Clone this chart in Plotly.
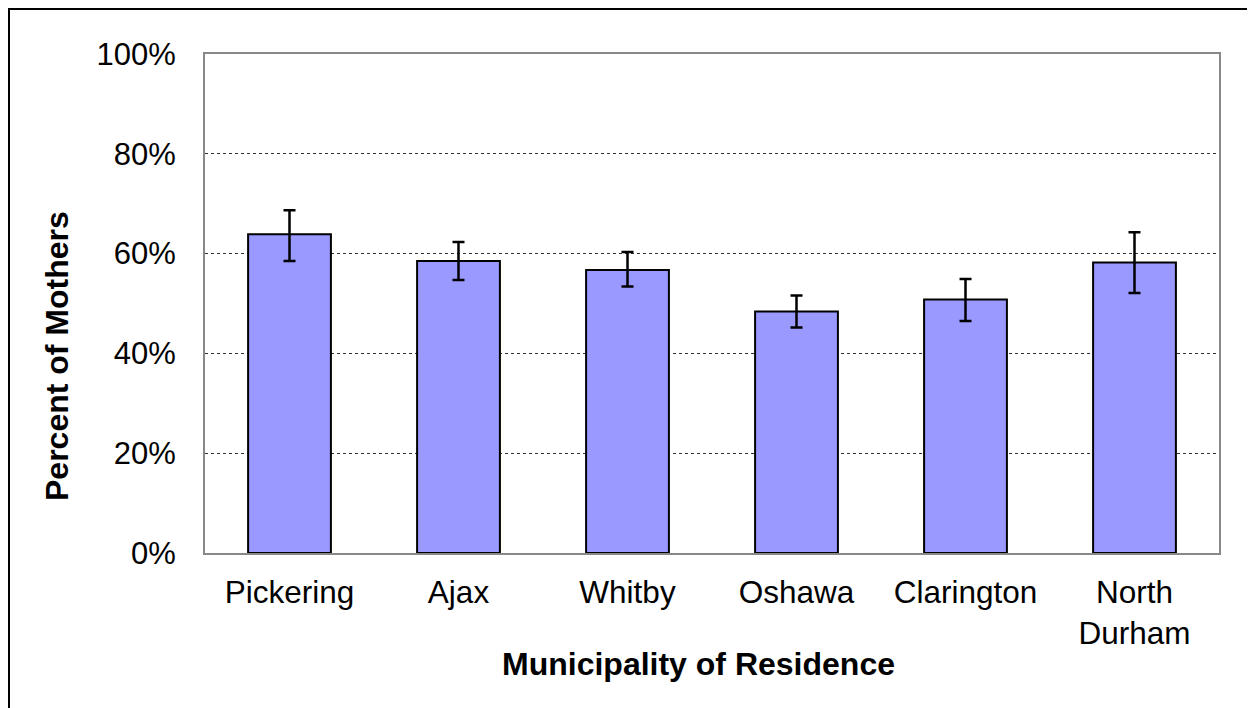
import plotly.graph_objects as go

categories = ["Pickering", "Ajax", "Whitby", "Oshawa", "Clarington", "North<br>Durham"]
percent = [63.9, 58.5, 56.7, 48.4, 50.8, 58.2]
ci_upper = [68.7, 62.3, 60.3, 51.6, 54.9, 64.3]
ci_lower = [58.5, 54.7, 53.4, 45.2, 46.5, 52.1]
y_ticks = [0, 20, 40, 60, 80, 100]
y_tick_labels = ["0%", "20%", "40%", "60%", "80%", "100%"]
x_title = "Municipality of Residence"
y_title = "Percent of Mothers"

err_plus = [u - v for u, v in zip(ci_upper, percent)]
err_minus = [v - l for v, l in zip(percent, ci_lower)]

FONT = "Liberation Sans, Arial, sans-serif"

fig = go.Figure()
fig.add_trace(go.Bar(
    x=categories, y=percent,
    marker=dict(color="#9999FF", line=dict(color="black", width=2)),
    error_y=dict(type="data", symmetric=False, array=err_plus, arrayminus=err_minus,
                 color="black", thickness=2.5, width=6),
    width=0.49,
))

# page body has an 8px margin, so the figure starts at (8, 8)
OFF = 8
W, H = 1255 - OFF, 708 - OFF
L, R, T, B = 205 - OFF, 1219 - OFF, 54 - OFF, 553 - OFF
pw, ph = R - L, B - T


def px_x(x):  # screen pixel -> paper x
    return (x - OFF - L) / pw


def px_y(y):  # screen pixel -> paper y
    return (B - (y - OFF)) / ph


fig.update_layout(
    width=W, height=H,
    margin=dict(l=L, r=W - R, t=T, b=H - B, pad=0),
    plot_bgcolor="white", paper_bgcolor="white",
    showlegend=False,
    font=dict(family=FONT, size=31, color="black"),
    xaxis=dict(
        showline=True, linecolor="#888888", linewidth=2, mirror=True,
        ticks="", ticklabelstandoff=10, showgrid=False,
        tickfont=dict(size=31.5),
    ),
    yaxis=dict(
        range=[0, 100], tickvals=y_ticks, ticktext=y_tick_labels,
        showline=True, linecolor="#888888", linewidth=2, mirror=True,
        ticks="", ticklabelstandoff=21,
        showgrid=True, gridcolor="#333333", gridwidth=1, griddash="dot",
        zeroline=False,
        tickfont=dict(size=31),
    ),
    annotations=[
        dict(text="<b>" + x_title + "</b>", xref="paper", yref="paper",
             x=px_x(698), y=px_y(664), xanchor="center", yanchor="middle",
             showarrow=False, font=dict(size=32)),
        dict(text="<b>" + y_title + "</b>", xref="paper", yref="paper",
             x=px_x(57), y=px_y(356), xanchor="center", yanchor="middle",
             textangle=-90, showarrow=False, font=dict(size=32)),
    ],
)

# outer chart-area border (top/left visible only)
x0 = (1 - L) / pw
y1 = 1 + (T - 1) / ph
fig.add_shape(type="rect", xref="paper", yref="paper",
              x0=x0, x1=1.3, y0=-0.8, y1=y1,
              line=dict(color="black", width=2), fillcolor="rgba(0,0,0,0)", layer="below")

fig.write_html("out.html")
